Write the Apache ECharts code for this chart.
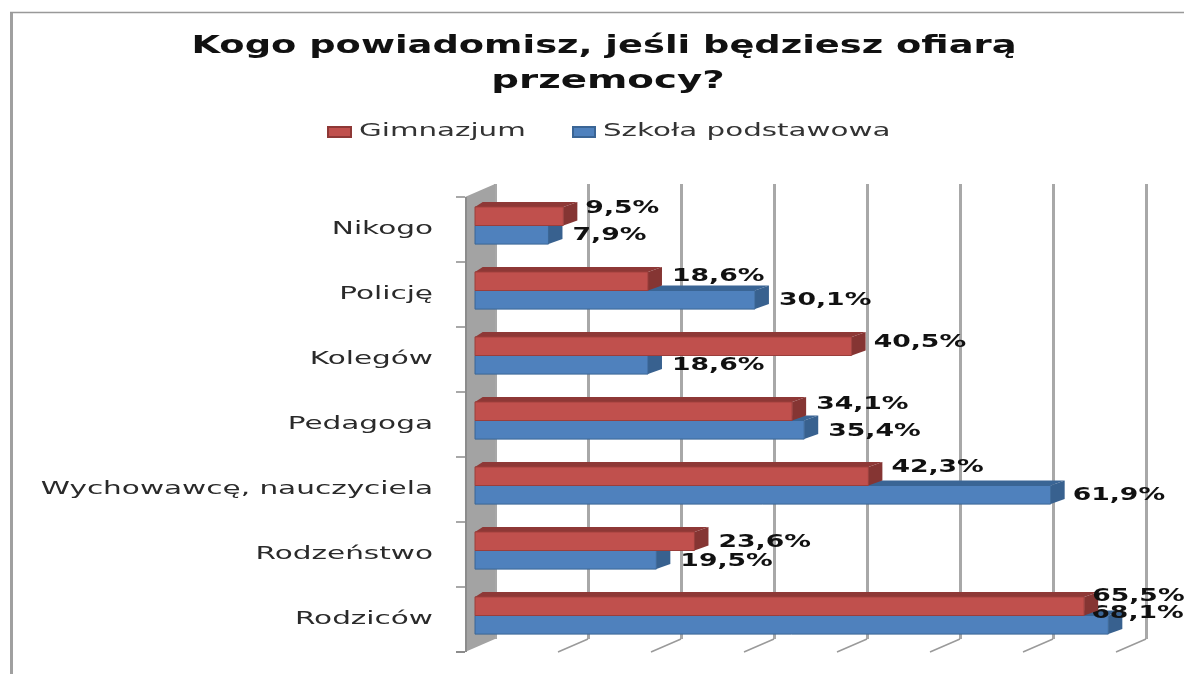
<!DOCTYPE html>
<html><head><meta charset="utf-8">
<style>html,body{margin:0;padding:0;background:#fff}#c{width:1184px;height:674px;filter:blur(0.6px)}</style>
<script src="https://cdn.jsdelivr.net/npm/echarts@6/dist/echarts.min.js"></script>
</head><body><div id="c"></div>
<script>
const categories = ['Nikogo','Policję','Kolegów','Pedagoga','Wychowawcę, nauczyciela','Rodzeństwo','Rodziców'];
const gimnazjum = [9.5,18.6,40.5,34.1,42.3,23.6,65.5];
const podstawowa = [7.9,30.1,18.6,35.4,61.9,19.5,68.1];
const ticks = [0,10,20,30,40,50,60,70];
const seriesNames = ['Gimnazjum','Szkoła podstawowa'];
const titleLines = ['Kogo powiadomisz, jeśli będziesz ofiarą','przemocy?'];

// label nudges relative to the bar's front end and centre (layout only)
const redNudge = [[22,-7.4],[24,-4.4],[22,-4],[24,-7],[23,-9],[24,1],[8,-10]];
const blueNudge = [[24,0.7],[24,1],[24,1],[24,2],[22,1],[24,2],[-17,-11]];

const DEPTH_X = 30, DEPTH_Y = 13, BAR_DX = 10, BAR_DY = -4, BAR_H = 18.6, FACE_X = 14, FACE_Y = 5;
const FONT = '"DejaVu Sans"';
const RED = {front:'#C0504D', top:'#8E3836', side:'#853533', edge:'#9A3E3B'};
const BLUE = {front:'#4F81BD', top:'#3A6595', side:'#38618F', edge:'#3A6595'};
const fmt = v => v.toFixed(1).replace('.', ',') + '%';

function barItem(colors, offset, nudge) {
  return function (params, api) {
    const v = api.value(0), c = api.value(1);
    const p = api.coord([v, c]), o = api.coord([0, c]);
    const y0 = p[1] + BAR_DY + (offset < 0 ? -BAR_H : 0), y1 = y0 + BAR_H;
    const x0 = o[0] + BAR_DX, x1 = p[0] + BAR_DX;
    const n = nudge[params.dataIndex];
    return {type:'group', children:[
      {type:'polygon', shape:{points:[[x0,y0],[x0+FACE_X*0.55,y0-FACE_Y],[x1+FACE_X,y0-FACE_Y],[x1,y0]]}, style:{fill:colors.top}},
      {type:'polygon', shape:{points:[[x1,y0],[x1+FACE_X,y0-FACE_Y],[x1+FACE_X,y1-FACE_Y],[x1,y1]]}, style:{fill:colors.side}},
      {type:'rect', shape:{x:x0,y:y0,width:x1-x0,height:BAR_H}, style:{fill:colors.front, stroke:colors.edge, lineWidth:1}},
      {type:'text', z2:50, x:x1+n[0], y:(y0+y1)/2+n[1], scaleX:1.48,
        style:{text:fmt(v), font:'bold 18px '+FONT, fill:'#111', align:'left', verticalAlign:'middle'}}
    ]};
  };
}

const option = {
  animation:false, backgroundColor:'#fff',
  grid:[
    {left:465, top:197, width:651, height:455},
    {left:495, top:184, width:651, height:455}
  ],
  xAxis:[
    {gridIndex:0, type:'value', min:0, max:70, interval:10, axisLabel:{show:false}, axisLine:{show:false}, axisTick:{show:false}, splitLine:{show:false}},
    {gridIndex:1, type:'value', min:0, max:70, interval:10, axisLabel:{show:false}, axisLine:{show:false}, axisTick:{show:false},
      splitLine:{show:true, lineStyle:{color:'#A8A8A8', width:3}}}
  ],
  yAxis:[
    {gridIndex:0, type:'category', inverse:true, data:categories, axisLabel:{show:false},
      axisLine:{show:false}, axisTick:{show:true, length:9, lineStyle:{color:'#8C8C8C', width:1.5}}},
    {gridIndex:1, type:'category', inverse:true, data:categories, show:false}
  ],
  series:[
    {type:'custom', name:'wall', xAxisIndex:0, yAxisIndex:0, silent:true, z:1, data:[[0]],
      renderItem(params, api){
        const cs = params.coordSys, l=cs.x, t=cs.y, b=cs.y+cs.height;
        return {type:'group', children:[
          {type:'polygon', shape:{points:[[l,b],[l,t],[l+DEPTH_X,t-DEPTH_Y],[l+DEPTH_X,b-DEPTH_Y]]}, style:{fill:'#A3A3A3'}},
          {type:'line', shape:{x1:l+1,y1:t,x2:l+1,y2:b}, style:{stroke:'#8C8C8C', lineWidth:2}},
          {type:'line', shape:{x1:l-9,y1:b,x2:l,y2:b}, style:{stroke:'#8C8C8C', lineWidth:2}}
        ]};
      }},
    {type:'custom', name:'floor', xAxisIndex:0, yAxisIndex:0, silent:true, z:1,
      data:ticks.slice(1).map(v=>[v]),
      renderItem(params, api){
        const cs = params.coordSys, b = cs.y+cs.height, x = api.coord([api.value(0),0])[0];
        return {type:'line', shape:{x1:x,y1:b,x2:x+DEPTH_X,y2:b-DEPTH_Y}, style:{stroke:'#9A9A9A', lineWidth:1.5}};
      }},
    {type:'custom', name:'labels', xAxisIndex:0, yAxisIndex:0, silent:true, z:5,
      data:categories.map((c,i)=>[0,i]),
      renderItem(params, api){
        const p = api.coord([0, api.value(1)]);
        return {type:'text', x:p[0]-32, y:p[1], scaleX:1.64,
          style:{text:categories[params.dataIndex], font:'18px '+FONT, fill:'#2a2a2a', align:'right', verticalAlign:'middle'}};
      }},
    {type:'custom', name:seriesNames[1], xAxisIndex:0, yAxisIndex:0, z:3,
      encode:{x:0,y:1}, data:podstawowa.map((v,i)=>[v,i]), renderItem:barItem(BLUE, 1, blueNudge)},
    {type:'custom', name:seriesNames[0], xAxisIndex:0, yAxisIndex:0, z:4,
      encode:{x:0,y:1}, data:gimnazjum.map((v,i)=>[v,i]), renderItem:barItem(RED, -1, redNudge)}
  ],
  graphic:[
    {type:'line', shape:{x1:11.5,y1:12,x2:11.5,y2:674}, style:{stroke:'#A0A0A0', lineWidth:3}},
    {type:'line', shape:{x1:10,y1:12.5,x2:1184,y2:12.5}, style:{stroke:'#999', lineWidth:1.5}},
    {type:'text', x:604, y:46.5, scaleX:1.474, style:{text:titleLines[0], font:'bold 25px '+FONT, fill:'#111', align:'center', verticalAlign:'middle'}},
    {type:'text', x:608, y:81.5, scaleX:1.55, style:{text:titleLines[1], font:'bold 25px '+FONT, fill:'#111', align:'center', verticalAlign:'middle'}},
    {type:'rect', shape:{x:328,y:127,width:23,height:10}, style:{fill:RED.front, stroke:RED.top, lineWidth:2}},
    {type:'text', x:359, y:131.3, scaleX:1.63, style:{text:seriesNames[0], font:'18px '+FONT, fill:'#333', align:'left', verticalAlign:'middle'}},
    {type:'rect', shape:{x:573,y:127,width:22,height:10}, style:{fill:BLUE.front, stroke:BLUE.edge, lineWidth:2}},
    {type:'text', x:603, y:131.3, scaleX:1.63, style:{text:seriesNames[1], font:'18px '+FONT, fill:'#333', align:'left', verticalAlign:'middle'}}
  ]
};
echarts.init(document.getElementById('c'), null, {renderer:'canvas'}).setOption(option);
</script></body></html>
